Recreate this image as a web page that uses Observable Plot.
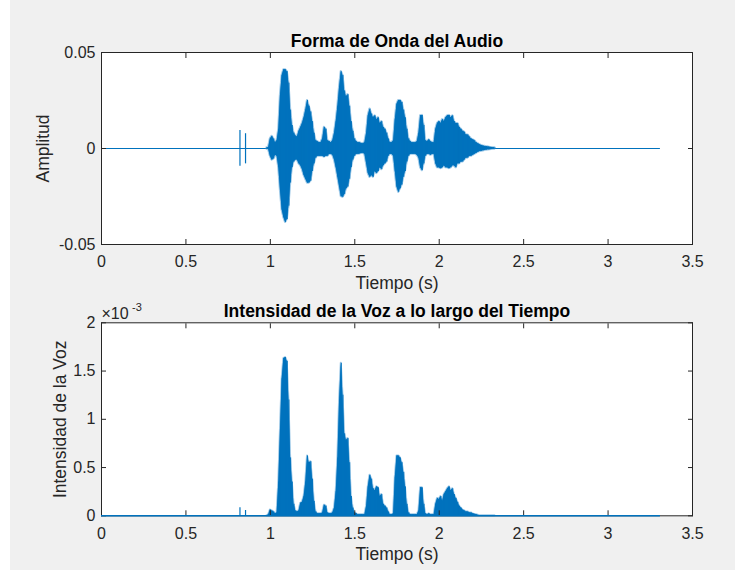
<!DOCTYPE html>
<html>
<head>
<meta charset="utf-8">
<script src="https://cdn.jsdelivr.net/npm/d3@7"></script>
<script src="https://cdn.jsdelivr.net/npm/@observablehq/plot@0.6"></script>
<style>
  html, body { margin: 0; padding: 0; background: #ffffff; overflow: hidden; }
  #page { position: relative; width: 735px; height: 570px; }
  #bg { position: absolute; left: 10px; top: 0; width: 725px; height: 570px; background: #f0f0f0; }
  .panel { position: absolute; left: 0; }
  .panel svg { display: block; }
</style>
</head>
<body>
<div id="page">
  <div id="bg"></div>
  <div class="panel" id="top" style="top:0px"></div>
  <div class="panel" id="bottom" style="top:285px"></div>
</div>
<script>
// ---------------- data ----------------
const titles = ["Forma de Onda del Audio", "Intensidad de la Voz a lo largo del Tiempo"];
const xLabel = "Tiempo (s)";
const yLabels = ["Amplitud", "Intensidad de la Voz"];
const exponentBase = "×10";
const exponentPower = "-3";

const xTicks = [0, 0.5, 1, 1.5, 2, 2.5, 3, 3.5];
const ampTicks = [-0.05, 0, 0.05];
const intTicks = [0, 0.5, 1, 1.5, 2];           // ×10^-3
const ampTickLabels = ["-0.05", "0", "0.05"];
const intTickLabels = ["0", "0.5", "1", "1.5", "2"];

const signalSpan = [0, 3.31];                    // seconds of recorded audio
const sampleStart = 0.98;                        // envelope samples every 10 ms
const sampleStep = 0.01;

// upper / lower envelope of the waveform, in units of 10^-3
const waveUpper = [
  0.3, 0.5, 5, 6.3, 5, 3, 4, 10, 28, 38,
  41, 41, 40, 34, 20, 12, 8, 6.5, 6, 9,
  11, 13, 16, 20, 25, 22, 19, 14, 8, 4,
  3.5, 3, 3, 5, 11, 10, 4, 3.5, 3, 4,
  8, 14, 22, 32, 40, 38, 30, 27, 28, 22,
  14, 9, 5, 3.5, 3, 3, 2.5, 2.5, 3, 8,
  17, 20.5, 18, 16, 17, 15, 16, 13, 14, 11,
  10, 8, 5, 3, 3, 4, 15, 23, 25, 25,
  24, 20, 16, 10, 5, 3.5, 3, 3, 3, 3.5,
  8, 17, 17.2, 12, 4, 3.5, 4.5, 3.5, 3, 3,
  10, 13, 14, 13, 15, 14, 16, 17, 17.2, 16,
  17, 14, 13, 13, 11, 10, 9, 8.5, 7, 7,
  6, 5, 4.5, 4, 3, 2.5, 2, 1.6, 1.3, 1.1,
  0.9, 0.8, 0.6, 0.5, 0.4, 0.3
];
const waveLower = [
  -0.3, -0.5, -4, -6, -5.5, -3.5, -4, -10, -22, -32,
  -36, -38.5, -37, -30, -18, -10, -7, -6, -6, -8,
  -9, -11, -14, -16, -18, -18, -17, -12, -8, -5,
  -4, -4, -4, -4, -4.5, -4, -4, -3, -3, -3.5,
  -6, -10, -15, -20, -25, -25.4, -24, -21, -20, -16,
  -10, -6, -4, -3, -3, -2.8, -2.5, -2.5, -3, -8,
  -13, -15, -14, -15, -12, -13, -12, -10, -11, -9,
  -8, -7, -4, -3, -3, -4, -12, -20, -22.8, -21,
  -19, -15, -12, -7, -4, -3, -3, -3, -3, -3.5,
  -5, -10, -11.5, -8, -4, -3, -3, -3.5, -3, -3,
  -8, -10, -10, -10.5, -10, -9, -10, -10, -10.5, -10,
  -9, -9, -10, -8, -8, -7, -7, -6, -5, -5,
  -4, -4, -3.5, -3, -2.5, -2, -1.6, -1.4, -1.2, -1,
  -0.8, -0.7, -0.6, -0.5, -0.4, -0.3
];
// voice intensity, in units of 10^-3
const intensity = [
  0, 0.01, 0.06, 0.05, 0.04, 0.02, 0.03, 0.35, 0.9, 1.42,
  1.63, 1.64, 1.6, 1.2, 0.6, 0.35, 0.12, 0.05, 0.04, 0.05,
  0.13, 0.14, 0.2, 0.35, 0.62, 0.55, 0.56, 0.38, 0.15, 0.04,
  0.02, 0.02, 0.02, 0.03, 0.11, 0.1, 0.03, 0.02, 0.02, 0.03,
  0.08, 0.25, 0.6, 1.2, 1.58, 1.25, 0.85, 0.78, 0.8, 0.55,
  0.2, 0.08, 0.03, 0.02, 0.01, 0.01, 0.01, 0.01, 0.01, 0.1,
  0.3, 0.42, 0.38, 0.28, 0.26, 0.3, 0.29, 0.2, 0.22, 0.12,
  0.1, 0.08, 0.04, 0.01, 0.01, 0.02, 0.4, 0.62, 0.62, 0.6,
  0.55, 0.45, 0.3, 0.12, 0.03, 0.01, 0.01, 0.01, 0.01, 0.01,
  0.05, 0.29, 0.29, 0.12, 0.02, 0.01, 0.02, 0.01, 0.01, 0.01,
  0.12, 0.18, 0.17, 0.2, 0.15, 0.22, 0.25, 0.28, 0.3, 0.26,
  0.28, 0.22, 0.18, 0.14, 0.1, 0.08, 0.06, 0.05, 0.04, 0.04,
  0.03, 0.03, 0.02, 0.015, 0.01, 0.005, 0, 0, 0, 0,
  0, 0, 0, 0, 0, 0
];
// two short clicks before the speech
const clickTimes = [0.82, 0.853];
const clickUpper = [9.4, 7.7];     // ×10^-3
const clickLower = [-9.2, -8];     // ×10^-3
const clickIntensity = [0.083, 0.055]; // ×10^-3

// ---------------- tables built from the arrays ----------------
const wave = waveUpper.map((u, i) => ({
  t: sampleStart + i * sampleStep, hi: u / 1000, lo: waveLower[i] / 1000
}));
const inten = intensity.map((v, i) => ({ t: sampleStart + i * sampleStep, v }));
const clicks = clickTimes.map((t, i) => ({
  t, hi: clickUpper[i] / 1000, lo: clickLower[i] / 1000, v: clickIntensity[i]
}));

// ---------------- style ----------------
const BLUE = "#0072BD";
const FRINGE = "#4a9ad4";
const AXC = "#262626";
const FONT = "'Liberation Sans', Arial, Helvetica, sans-serif";
const W = 735, H = 285;
const fmtX = d => String(d);

function axesMarks(yTicks, yFmt) {
  return [
    Plot.axisX({anchor: "bottom", ticks: xTicks, tickFormat: fmtX, tickSize: -5, tickPadding: 16.5,
      fontSize: 16, stroke: AXC, fill: AXC, label: null}),
    Plot.axisX({anchor: "top", ticks: xTicks, tickFormat: () => "", tickSize: -5, stroke: AXC, label: null}),
    Plot.axisY({anchor: "left", ticks: yTicks, tickFormat: yFmt, tickSize: -5, tickPadding: 11,
      fontSize: 16, stroke: AXC, fill: AXC, label: null}),
    Plot.axisY({anchor: "right", ticks: yTicks, tickFormat: () => "", tickSize: -5, stroke: AXC, label: null}),
  ];
}

function labelMarks(title, yLab, yDx) {
  return [
    Plot.text([title], {frameAnchor: "top", lineAnchor: "bottom", dy: -6, text: d => d,
      fontSize: 17.5, fontWeight: "bold", fill: "#000"}),
    Plot.text([xLabel], {frameAnchor: "bottom", lineAnchor: "bottom", dy: 44, text: d => d,
      fontSize: 17.5, fill: AXC}),
    Plot.text([yLab], {frameAnchor: "left", textAnchor: "middle", lineAnchor: "middle", rotate: -90,
      dx: yDx, text: d => d, fontSize: 17.5, fill: AXC}),
  ];
}

const topPlot = Plot.plot({
  width: W, height: H,
  marginLeft: 101, marginRight: 43, marginTop: 52, marginBottom: 41,
  style: {background: "transparent", fontFamily: FONT, color: AXC, overflow: "visible"},
  x: {domain: [0, 3.5]},
  y: {domain: [-0.05, 0.05]},
  marks: [
    Plot.frame({fill: "white", stroke: null}),
    Plot.ruleY([0], {x1: signalSpan[0], x2: signalSpan[1], stroke: BLUE, strokeWidth: 1.2}),
    Plot.ruleX(clicks, {x: "t", y1: "lo", y2: "hi", stroke: BLUE, strokeWidth: 1.2}),
    Plot.areaY(wave, {x: "t", y1: "lo", y2: "hi", fill: BLUE, stroke: FRINGE, strokeWidth: 2.2, strokeOpacity: 0.55}),
    Plot.areaY(wave, {x: "t", y1: "lo", y2: "hi", fill: BLUE}),
    Plot.ruleX(wave, {x: "t", y1: "lo", y2: "hi", stroke: BLUE, strokeWidth: 1}),
    ...axesMarks(ampTicks, d => ampTickLabels[ampTicks.indexOf(d)]),
    Plot.frame({stroke: AXC, strokeWidth: 1}),
    ...labelMarks(titles[0], yLabels[0], -57.7),
  ]
});

const bottomPlot = Plot.plot({
  width: W, height: H,
  marginLeft: 101, marginRight: 43, marginTop: 37.3, marginBottom: 54.7,
  style: {background: "transparent", fontFamily: FONT, color: AXC, overflow: "visible"},
  x: {domain: [0, 3.5]},
  y: {domain: [0, 2]},
  marks: [
    Plot.frame({fill: "white", stroke: null}),
    Plot.ruleX(clicks, {x: "t", y1: 0, y2: "v", stroke: BLUE, strokeWidth: 1.2}),
    Plot.areaY(inten, {x: "t", y1: 0, y2: "v", fill: BLUE, stroke: FRINGE, strokeWidth: 2, strokeOpacity: 0.55}),
    Plot.areaY(inten, {x: "t", y1: 0, y2: "v", fill: BLUE}),
    Plot.ruleX(inten, {x: "t", y1: 0, y2: "v", stroke: BLUE, strokeWidth: 1}),
    ...axesMarks(intTicks, d => intTickLabels[intTicks.indexOf(d)]),
    Plot.frame({stroke: AXC, strokeWidth: 1}),
    Plot.ruleY([0], {x1: signalSpan[0], x2: signalSpan[1], stroke: BLUE, strokeWidth: 1.5}),
    Plot.text([exponentBase], {frameAnchor: "top-left", textAnchor: "start", lineAnchor: "bottom",
      dx: 0, dy: -3.5, text: d => d, fontSize: 16, fill: AXC}),
    Plot.text([exponentPower], {frameAnchor: "top-left", textAnchor: "start", lineAnchor: "bottom",
      dx: 30.5, dy: -11.5, text: d => d, fontSize: 11, fill: AXC}),
    ...labelMarks(titles[1], yLabels[1], -41),
  ]
});

document.getElementById("top").appendChild(topPlot);
document.getElementById("bottom").appendChild(bottomPlot);
</script>
</body>
</html>
